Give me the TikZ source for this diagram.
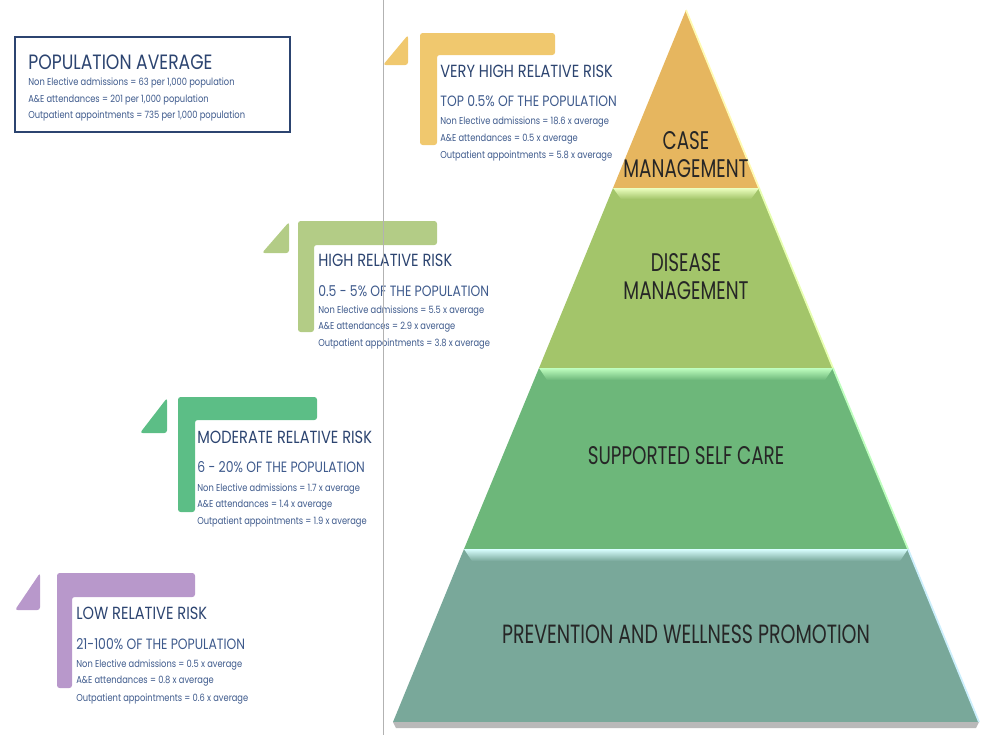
\documentclass[tikz,border=0pt]{standalone}
\usepackage{fontspec}
\usepackage{tikz}
\usetikzlibrary{positioning}
\newfontfamily\gothic[FakeStretch=0.72]{Poppins}
\newfontfamily\gothicwide[FakeStretch=0.83]{Poppins}

\definecolor{navy}{HTML}{2C4470}
\definecolor{navytext}{HTML}{3E5A8C}
\definecolor{caseorange}{HTML}{E6B65F}
\definecolor{diseasegreen}{HTML}{A3C56A}
\definecolor{selfgreen}{HTML}{6DB77A}
\definecolor{preventteal}{HTML}{79A89A}
\definecolor{veryhighfill}{HTML}{F0C86E}
\definecolor{highfill}{HTML}{B3CC86}
\definecolor{moderatefill}{HTML}{5CBE86}
\definecolor{lowfill}{HTML}{B898CB}

\begin{document}
\begin{tikzpicture}[
    x=0.02cm, y=-0.02cm,
    head/.style={anchor=west, inner sep=0pt, text=navy, font=\gothicwide\fontsize{10}{10}\selectfont},
    sub/.style={anchor=west, inner sep=0pt, text=navytext, font=\gothicwide\fontsize{8.5}{9}\selectfont},
    small/.style={anchor=west, inner sep=0pt, text=navytext, font=\gothicwide\fontsize{5.7}{6}\selectfont},
    layer/.style={align=center, inner sep=0pt, text=black!85, font=\gothic\fontsize{14.5}{16}\selectfont},
    bracket/.style={rounded corners=1.5pt}
]
\useasboundingbox (0,0) rectangle (982,735);

% Pyramid layers
\fill[caseorange] (686,10) -- (759,188) -- (613,188) -- cycle;
\fill[diseasegreen] (613,188) -- (759,188) -- (833,368) -- (539,368) -- cycle;
\fill[selfgreen] (539,368) -- (833,368) -- (908,549) -- (464,549) -- cycle;
\fill[preventteal] (464,549) -- (908,549) -- (979,722) -- (393,722) -- cycle;
\fill[gray!55] (393,722) -- (979,722) -- (976,728) -- (396,728) -- cycle;

% Bevels along the top and right edges
\shade[top color=green!30!yellow!25, bottom color=diseasegreen] (613,188) -- (759,188) -- (751,199) -- (621,199) -- cycle;
\shade[top color=green!25!white, bottom color=selfgreen] (539,368) -- (833,368) -- (825,380) -- (547,380) -- cycle;
\shade[top color=cyan!15!white, bottom color=preventteal] (464,549) -- (908,549) -- (900,561) -- (472,561) -- cycle;
\draw[yellow!30, line width=1pt] (686,10) -- (759,188);
\draw[green!30!yellow!30, line width=1pt] (759,188) -- (833,368);
\draw[green!25, line width=1pt] (833,368) -- (908,549);
\draw[cyan!20, line width=1pt] (908,549) -- (979,722);

% Layer labels
\node[layer] (caseMgmt) at (686,155) {CASE\\MANAGEMENT};
\node[layer] (diseaseMgmt) at (686,277) {DISEASE\\MANAGEMENT};
\node[layer] (selfCare) at (686,456) {SUPPORTED SELF CARE};
\node[layer, font=\gothic\fontsize{15}{16}\selectfont] (prevention) at (686,634) {PREVENTION AND WELLNESS PROMOTION};

% Population average box
\draw[navy, line width=1.2pt] (15,37) rectangle (290,132);
\node[head, font=\gothicwide\fontsize{11.8}{12}\selectfont] (popHead) at (28,62) {POPULATION AVERAGE};
\node[small] (popNel) at (28,83) {Non Elective admissions = 63 per 1,000 population};
\node[small] (popAe) at (28,100) {A\&E attendances = 201 per 1,000 population};
\node[small] (popOp) at (28,116) {Outpatient appointments = 735 per 1,000 population};

% Very high relative risk
\fill[veryhighfill, bracket] (383,65) -- (408,35) -- (408,65) -- cycle;
\fill[veryhighfill, bracket] (420,33) -- (555,33) -- (555,55) -- (437,55) -- (437,145) -- (420,145) -- cycle;
\node[head] (vhHead) at (440,71) {VERY HIGH RELATIVE RISK};
\node[sub] (vhSub) at (440,101) {TOP 0.5\% OF THE POPULATION};
\node[small] (vhNel) at (440,122) {Non Elective admissions = 18.6 x average};
\node[small] (vhAe) at (440,139) {A\&E attendances = 0.5 x average};
\node[small] (vhOp) at (440,156) {Outpatient appointments = 5.8 x average};

% High relative risk
\fill[highfill, bracket] (262,253) -- (289,222) -- (289,253) -- cycle;
\fill[highfill, bracket] (298,221) -- (437,221) -- (437,245) -- (314,245) -- (314,332) -- (298,332) -- cycle;
\node[head] (hHead) at (318,260) {HIGH RELATIVE RISK};
\node[sub] (hSub) at (318,291) {0.5 - 5\% OF THE POPULATION};
\node[small] (hNel) at (318,311) {Non Elective admissions = 5.5 x average};
\node[small] (hAe) at (318,327) {A\&E attendances = 2.9 x average};
\node[small] (hOp) at (318,344) {Outpatient appointments = 3.8 x average};

% Moderate relative risk
\fill[moderatefill, bracket] (140,433) -- (167,398) -- (167,433) -- cycle;
\fill[moderatefill, bracket] (178,397) -- (317,397) -- (317,420) -- (195,420) -- (195,512) -- (178,512) -- cycle;
\node[head] (mHead) at (197,437) {MODERATE RELATIVE RISK};
\node[sub] (mSub) at (197,467) {6 - 20\% OF THE POPULATION};
\node[small] (mNel) at (197,489) {Non Elective admissions = 1.7 x average};
\node[small] (mAe) at (197,505) {A\&E attendances = 1.4 x average};
\node[small] (mOp) at (197,522) {Outpatient appointments = 1.9 x average};

% Low relative risk
\fill[lowfill, bracket] (15,610) -- (40,573) -- (40,610) -- cycle;
\fill[lowfill, bracket] (57,573) -- (195,573) -- (195,597) -- (72,597) -- (72,688) -- (57,688) -- cycle;
\node[head] (lHead) at (76,613) {LOW RELATIVE RISK};
\node[sub] (lSub) at (76,644) {21-100\% OF THE POPULATION};
\node[small] (lNel) at (76,665) {Non Elective admissions = 0.5 x average};
\node[small] (lAe) at (76,681) {A\&E attendances = 0.8 x average};
\node[small] (lOp) at (76,699) {Outpatient appointments = 0.6 x average};

% Divider
\draw[gray!60, line width=0.5pt] (383,0) -- (383,735);

\end{tikzpicture}
\end{document}
